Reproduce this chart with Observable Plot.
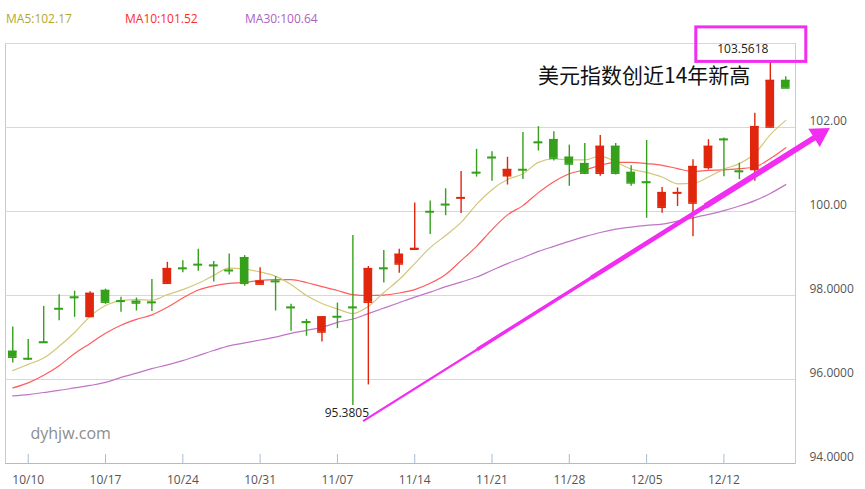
<!DOCTYPE html>
<html>
<head>
<meta charset="utf-8">
<script src="https://cdn.jsdelivr.net/npm/d3@7"></script>
<script src="https://cdn.jsdelivr.net/npm/@observablehq/plot@0.6"></script>
<style>
  html, body { margin: 0; padding: 0; background: #fff; }
  #wrap { position: relative; width: 865px; height: 489px; font-family: "Open Sans", sans-serif; }
  #legend { position: absolute; left: 0; top: 10px; height: 18px; width: 865px; font-size: 12px; line-height: 18px; }
  #legend span { position: absolute; top: 0; white-space: nowrap; }
  #chart { position: absolute; left: 0; top: 0; }
</style>
</head>
<body>
<div id="wrap">
  <div id="chart"></div>
  <div id="legend"></div>
</div>
<script>
// ---- data ----
const dates = ["10/07","10/10","10/11","10/12","10/13","10/14","10/17","10/18","10/19","10/20","10/21",
  "10/24","10/25","10/26","10/27","10/28","10/31","11/01","11/02","11/03","11/04",
  "11/07","11/08","11/09","11/10","11/11","11/14","11/15","11/16","11/17","11/18",
  "11/21","11/22","11/23","11/24","11/25","11/28","11/29","11/30","12/01","12/02",
  "12/05","12/06","12/07","12/08","12/09","12/12","12/13","12/14","12/15","12/16"];
const open  = [96.67,96.50,96.89,97.69,97.96,97.50,98.12,97.87,97.86,97.84,98.29,
  98.65,98.74,98.72,98.60,98.90,98.27,98.34,97.72,97.37,97.13,
  97.50,97.72,97.84,98.65,98.75,99.10,100.00,100.17,100.32,100.93,
  101.29,100.85,101.00,101.65,101.71,101.29,101.14,100.91,101.55,100.93,
  100.70,100.10,100.44,100.20,101.05,101.72,100.96,101.00,102.01,103.12];
const high  = [97.25,96.95,97.74,98.02,98.10,98.09,98.15,97.96,97.94,98.38,98.79,
  98.83,99.10,98.81,98.99,98.95,98.66,98.45,97.79,97.43,97.50,
  97.82,99.43,98.69,99.07,99.10,100.20,100.25,100.54,100.95,101.48,
  101.42,101.29,101.88,102.02,101.90,101.58,101.62,101.81,101.62,101.09,
  101.69,100.57,100.56,101.23,101.71,101.75,101.15,102.34,103.5618,103.21];
const low   = [96.39,96.45,96.87,97.40,97.48,97.47,97.79,97.60,97.63,97.62,98.27,
  98.54,98.58,98.32,98.49,98.22,98.27,97.63,97.15,97.03,96.89,
  97.21,95.3805,95.87,98.30,98.53,99.10,99.45,99.90,99.95,100.82,
  100.72,100.63,100.76,101.44,101.20,100.60,100.89,100.84,100.87,100.60,
  99.84,99.96,100.12,99.40,100.99,100.83,100.76,100.72,102.00,102.93];
const close = [96.53,96.49,96.88,97.68,97.95,98.05,97.84,97.86,97.82,97.83,98.64,
  98.64,98.73,98.71,98.59,98.29,98.34,98.33,97.71,97.36,97.49,
  97.49,97.71,98.64,98.64,98.98,99.12,99.99,100.16,100.33,100.92,
  101.28,101.00,100.99,101.64,101.27,101.13,100.91,101.55,100.91,100.68,
  100.69,100.45,100.45,101.07,101.55,101.71,100.95,102.02,103.12,102.94];
const ma5  = [96.21,96.36,96.51,96.79,97.12,97.50,97.76,97.88,97.90,97.89,98.02,
  98.14,98.29,98.48,98.65,98.63,98.56,98.46,98.26,98.00,97.81,
  97.68,97.57,97.74,98.07,98.38,98.76,99.14,99.43,99.74,100.17,
  100.52,100.76,100.90,101.17,101.25,101.23,101.23,101.32,101.18,101.01,
  100.93,100.82,100.66,100.67,100.82,101.01,101.14,101.38,101.83,102.17];
const ma10 = [95.80,95.92,96.10,96.33,96.62,96.86,97.10,97.29,97.43,97.54,97.72,
  97.94,98.13,98.23,98.29,98.31,98.36,98.38,98.38,98.31,98.21,
  98.12,98.02,98.00,98.01,98.06,98.14,98.29,98.50,98.83,99.17,
  99.57,99.92,100.14,100.45,100.71,100.90,100.99,101.10,101.17,101.17,
  101.14,101.10,101.02,100.95,100.98,100.99,101.02,101.06,101.26,101.52];
const ma30 = [95.61,95.64,95.69,95.74,95.80,95.86,95.93,96.05,96.15,96.26,96.35,
  96.45,96.57,96.69,96.80,96.87,96.94,97.01,97.10,97.17,97.24,
  97.36,97.44,97.57,97.70,97.83,97.96,98.08,98.21,98.32,98.44,
  98.60,98.76,98.90,99.05,99.17,99.29,99.40,99.50,99.58,99.63,
  99.67,99.70,99.77,99.85,99.93,100.02,100.13,100.26,100.43,100.64];

const legendItems = [
  {label: "MA5:102.17", color: "#b3a82c"},
  {label: "MA10:101.52", color: "#ff2b2b"},
  {label: "MA30:100.64", color: "#ae5fbf"}
];
const xTickDates = ["10/10","10/17","10/24","10/31","11/07","11/14","11/21","11/28","12/05","12/12"];
const yTickValues = [94, 96, 98, 100, 102];
const yTickLabels = ["94.0000","96.0000","98.0000","100.00","102.00"];
const gridValues = [96, 98, 100, 102, 104];
const lowNote = {date: "11/08", value: 95.3805, label: "95.3805"};
const highNote = {date: "12/15", value: 103.5618, label: "103.5618"};
const headline = "美元指数创近14年新高";
const watermark = "dyhjw.com";
// trend arrow annotation, in (trading-day index, index value)
const trendArrow = {x1: 22.66, y1: 95.01, x2: 52.17, y2: 101.83};

// ---- build ----
const RED = "#e0260c", GREEN = "#36a01c";
const MA5C = "#d1c87a", MA10C = "#ff5c5c", MA30C = "#c274c8", MAG = "#f12df1";
const half = 0.28;
const rows = dates.map((d, i) => ({i, d, o: open[i], h: high[i], l: low[i], c: close[i],
  m5: ma5[i], m10: ma10[i], m30: ma30[i], col: close[i] >= open[i] ? RED : GREEN}));
const tickIdx = xTickDates.map(d => dates.indexOf(d));
const lowI = dates.indexOf(lowNote.date), highI = dates.indexOf(highNote.date);

// tapered arrow shaft: overlapping segments of growing width
const taper = [[0, 2.2], [0.25, 3.4], [0.5, 4.6], [0.75, 5.8]].map(([t, w]) => ({
  x1: trendArrow.x1 + (trendArrow.x2 - trendArrow.x1) * t,
  y1: trendArrow.y1 + (trendArrow.y2 - trendArrow.y1) * t,
  x2: trendArrow.x2, y2: trendArrow.y2, w}));

const chart = Plot.plot({
  width: 865, height: 489,
  marginTop: 43, marginBottom: 26, marginLeft: 5, marginRight: 70,
  x: {domain: [-0.47, 50.63], label: null},
  y: {domain: [94, 104], label: null},
  color: {type: "identity"},
  style: {fontFamily: "Open Sans", fontSize: "12px", background: "transparent", overflow: "visible"},
  marks: [
    Plot.frame({stroke: "#bccde2"}),
    Plot.ruleY(gridValues, {stroke: "#d7d7d7"}),
    Plot.ruleY([94], {stroke: "#a9bcd4"}),
    Plot.ruleX(tickIdx, {x: d => d, insetTop: 411, stroke: "#a9bcd4"}),
    Plot.axisX(tickIdx, {anchor: "bottom", tickSize: 0, tickPadding: 12, tickFormat: i => dates[i], fill: "#555", label: null}),
    Plot.axisY(yTickValues, {anchor: "right", tickSize: 0, tickPadding: 14, dy: -6,
      tickFormat: d => yTickLabels[yTickValues.indexOf(d)], fill: "#555", label: null}),
    Plot.text([watermark], {frameAnchor: "bottom-left", dx: 25, dy: -30, text: d => d, textAnchor: "start",
      lineAnchor: "middle", fontSize: 16, fill: "#8d8d8d"}),
    Plot.line(rows, {x: "i", y: "m30", stroke: MA30C, strokeWidth: 1.2, curve: "monotone-x"}),
    Plot.line(rows, {x: "i", y: "m10", stroke: MA10C, strokeWidth: 1.2, curve: "monotone-x"}),
    Plot.line(rows, {x: "i", y: "m5", stroke: MA5C, strokeWidth: 1.2, curve: "monotone-x"}),
    Plot.ruleX(rows, {x: "i", y1: "l", y2: "h", stroke: "col", strokeWidth: 1.4}),
    Plot.rect(rows, {x1: d => d.i - half, x2: d => d.i + half, y1: "o", y2: "c", fill: "col"}),
    Plot.ruleY(rows, {y: "c", x1: d => d.i - half, x2: d => d.i + half, stroke: "col", strokeWidth: 1.5}),
    Plot.ruleY(rows, {y: "o", x1: d => d.i - half, x2: d => d.i + half, stroke: "col", strokeWidth: 1.5}),
    // annotations
    Plot.text([lowNote], {x: () => lowI, y: "value", text: "label", dx: -6, dy: 8, lineAnchor: "middle",
      fill: "#222", fontSize: 12}),
    Plot.rect([highNote], {x1: () => highI, x2: () => highI, y1: "value", y2: "value",
      insetLeft: -74, insetRight: -36, insetTop: -34.5, insetBottom: 0, fill: "none", stroke: MAG, strokeWidth: 3}),
    Plot.text([highNote], {x: () => highI, y: "value", text: "label", dx: -27.5, dy: -13, lineAnchor: "middle",
      fill: "#222", fontSize: 12}),
    Plot.text([headline], {frameAnchor: "top-left", dx: 532.5, dy: 33, text: d => d, textAnchor: "start",
      lineAnchor: "middle", fontSize: 21, fill: "#111", fontFamily: "Noto Sans CJK SC"}),
    Plot.link(taper, {x1: "x1", y1: "y1", x2: "x2", y2: "y2", stroke: MAG, strokeWidth: "w", strokeLinecap: "butt"}),
    Plot.dot([trendArrow], {x: "x2", y: "y2", symbol: "triangle", r: 8, fill: MAG, stroke: "none", rotate: 58})
  ]
});
document.getElementById("chart").appendChild(chart);

const legend = document.getElementById("legend");
const lefts = [6, 125, 245];
legendItems.forEach((it, k) => {
  const s = document.createElement("span");
  s.textContent = it.label;
  s.style.left = lefts[k] + "px";
  s.style.color = it.color;
  legend.appendChild(s);
});
</script>
</body>
</html>
